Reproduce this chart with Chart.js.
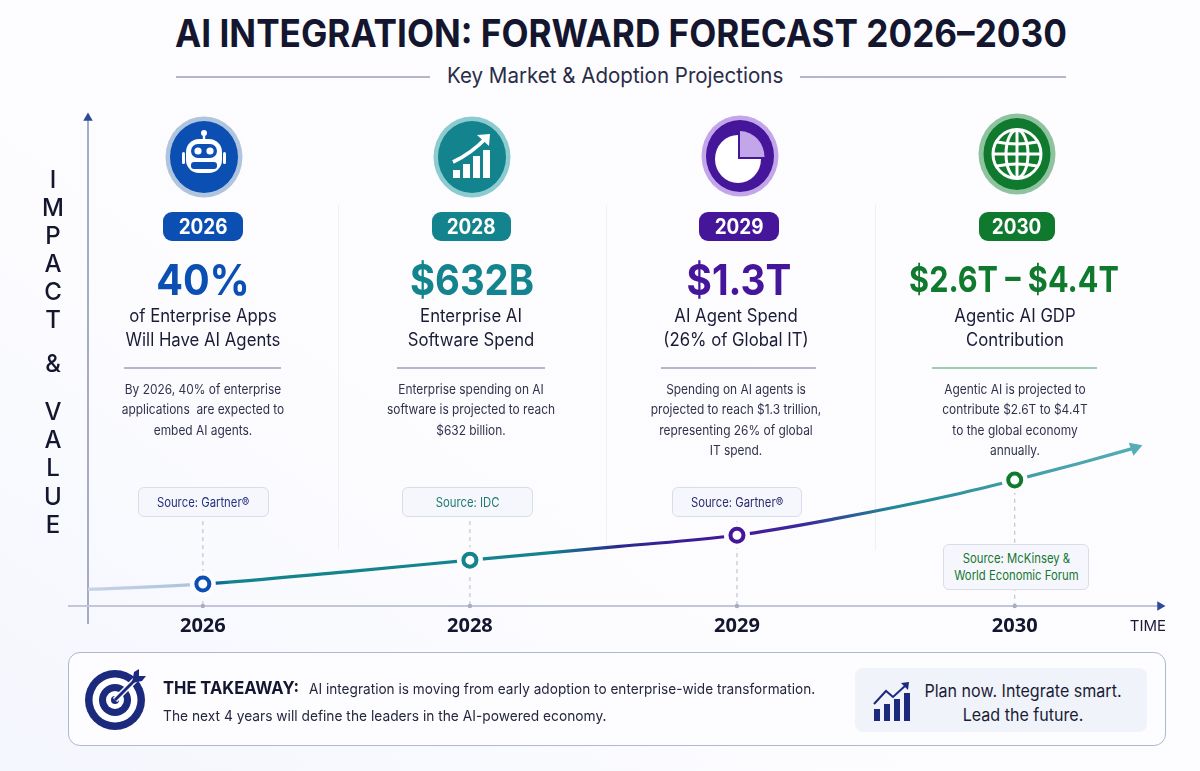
<!DOCTYPE html>
<html>
<head>
<meta charset="utf-8">
<script src="https://cdn.jsdelivr.net/npm/chart.js"></script>
<style>
  * { box-sizing: border-box; }
  html, body { margin: 0; padding: 0; }
  body {
    width: 1200px; height: 771px; overflow: hidden; position: relative;
    font-family: Inter, "Noto Sans", sans-serif; color: #1a1c36;
    background: linear-gradient(35deg, #f4f6fd 0%, #fcfcff 35%, #fdfdff 100%);
  }
  #timeline { position: absolute; left: 0; top: 0; width: 1200px; height: 771px; }
  .abs { position: absolute; white-space: nowrap; transform-origin: left center; }
  .center { position: absolute; text-align: center; white-space: nowrap; }
  h1 { position: absolute; left: 621px; top: 11px; margin: 0; white-space: nowrap;
       transform: translateX(-50%) scaleX(0.925);
       font-size: 38px; line-height: 44px; font-weight: 700; color: #14152e; }
  #subtitle { position: absolute; left: 447px; top: 61px; font-size: 21.5px; line-height: 28px; color: #2a2c48; white-space: nowrap;
              transform: scaleX(0.955); transform-origin: left center; }
  .rule { position: absolute; height: 1.5px; background: #b4b7cb; }
  .sep { position: absolute; width: 1px; background: #eef0f6; top: 205px; height: 345px; }
  #yTitle { position: absolute; left: 38px; top: 0; width: 30px; text-align: center; font-size: 24px; font-weight: 500; color: #14152e; }
  #yTitle span { position: absolute; left: 0; width: 30px; line-height: 28px; }
  .badge { position: absolute; top: 212px; height: 29px; border-radius: 9px; color: #fff; text-align: center;
           font-size: 21px; font-weight: 700; line-height: 29px; }
  .badge span { display: inline-block; transform: scaleX(0.9); }
  .value { top: 254px; font-weight: 700; font-size: 43px; line-height: 50px; }
  .sub { top: 304px; font-size: 18px; line-height: 24px; color: #1a1c36; transform: translateX(-50%) scaleX(0.93); }
  .desc { top: 379px; font-size: 13.4px; line-height: 20.3px; color: #30324c; transform: translateX(-50%) scaleX(0.89); }
  .srcbox { position: absolute; background: #f6f7fc; border: 1px solid #d9dce9; border-radius: 6px; text-align: center;
            font-size: 13px; line-height: 17px; display: flex; align-items: center; justify-content: center; }
  .srcbox div { transform: scaleX(0.87); white-space: nowrap; }
  svg { position: absolute; overflow: visible; }
  #takeaway { position: absolute; left: 68px; top: 652px; width: 1098px; height: 94px; border: 1.5px solid #aeb8d2; border-radius: 12px; background: #fdfdff; }
  #cta { position: absolute; left: 855px; top: 668px; width: 292px; height: 64px; background: #f0f3fa; border-radius: 8px; }
</style>
</head>
<body>
  <h1>AI INTEGRATION: FORWARD FORECAST 2026–2030</h1>
  <div class="rule" style="left:176px;top:76px;width:254px"></div>
  <div id="subtitle">Key Market &amp; Adoption Projections</div>
  <div class="rule" style="left:800px;top:76px;width:266px"></div>

  <div id="takeaway"></div>

  <div class="sep" style="left:338px"></div>
  <div class="sep" style="left:606px"></div>
  <div class="sep" style="left:875px"></div>

  <canvas id="timeline" width="1200" height="771"></canvas>

  <div id="yTitle"></div>
  <div id="cards"></div>

  <svg style="left:115px;top:700px" width="1" height="1" viewBox="0 0 1 1">
    <circle r="30" fill="#1b2a7d"/><circle r="22.5" fill="#fff"/><circle r="16" fill="#1b2a7d"/><circle r="9" fill="#fff"/><circle r="4" fill="#1b2a7d"/>
    <path d="M0 0 L21 -21" stroke="#fff" stroke-width="6"/><path d="M0 0 L21 -21" stroke="#1b2a7d" stroke-width="3"/>
    <path d="M17 -17 L19 -28 L24 -31 L24 -24 L31 -24 L27 -19 Z" fill="#1b2a7d"/>
  </svg>
  <div class="abs" style="left:163px;top:677px;font-size:17.5px;font-weight:700;line-height:22px;color:#14152e;transform:scaleX(0.945)">THE TAKEAWAY:</div>
  <div class="abs" style="left:309px;top:678px;font-size:14.6px;line-height:22px;color:#25273f;transform:scaleX(0.934)">AI integration is moving from early adoption to enterprise-wide transformation.</div>
  <div class="abs" style="left:163px;top:705px;font-size:14.6px;line-height:22px;color:#25273f;transform:scaleX(0.943)">The next 4 years will define the leaders in the AI-powered economy.</div>
  <div id="cta"></div>
  <svg style="left:874px;top:683px" width="1" height="1" viewBox="0 0 1 1">
    <rect x="0" y="26" width="6" height="12" fill="#1b2a7d"/><rect x="10" y="21" width="6" height="17" fill="#1b2a7d"/><rect x="20" y="16" width="6" height="22" fill="#1b2a7d"/><rect x="30" y="10" width="6" height="28" fill="#1b2a7d"/>
    <path d="M0 21 L12 8 L19 14 L32 2" fill="none" stroke="#1b2a7d" stroke-width="2"/><path d="M27 0 L35 -1 L34 7 Z" fill="#1b2a7d"/>
  </svg>
  <div class="center" style="left:1023px;top:679px;font-size:17.3px;line-height:24px;color:#1a1c36;transform:translateX(-50%) scaleX(0.93)">Plan now. Integrate smart.<br>Lead the future.</div>

  <script>
    // milestones along the time axis
    const YEARS = ['2026', '2028', '2029', '2030'];
    const VALUES = ['40%', '$632B', '$1.3T', '$2.6T – $4.4T'];
    const SUBTITLES = [
      ['of Enterprise Apps', 'Will Have AI Agents'],
      ['Enterprise AI', 'Software Spend'],
      ['AI Agent Spend', '(26% of Global IT)'],
      ['Agentic AI GDP', 'Contribution']
    ];
    const DESCRIPTIONS = [
      ['By 2026, 40% of enterprise', 'applications  are expected to', 'embed AI agents.'],
      ['Enterprise spending on AI', 'software is projected to reach', '$632 billion.'],
      ['Spending on AI agents is', 'projected to reach $1.3 trillion,', 'representing 26% of global', 'IT spend.'],
      ['Agentic AI is projected to', 'contribute $2.6T to $4.4T', 'to the global economy', 'annually.']
    ];
    const SOURCES = [
      ['Source: Gartner®'],
      ['Source: IDC'],
      ['Source: Gartner®'],
      ['Source: McKinsey &', 'World Economic Forum']
    ];
    const COLORS = ['#0b4fb3', '#13838d', '#46169a', '#0f7a2d'];
    const RING_COLORS = ['#afc4de', '#8ccbd0', '#c3a6ea', '#8fc3a0'];
    const SOURCE_COLORS = ['#23307f', '#1c7a72', '#2a2b6e', '#14752f'];

    // timeline readings: x is the slot on the time axis, y is impact on a 0-100 scale
    const MILESTONE_X = [0, 1, 2, 3.04];
    const MILESTONE_IMPACT = [4.5, 9.4, 14.5, 25.8];
    const LEADER_TOP = [17.4, 17.4, 17.4, 23.6];
    const TREND_X = [-0.43, 0, 0.535, 1, 1.56, 2, 2.36, 2.83, 3.04, 3.28, 3.49];
    const TREND_IMPACT = [3.4, 4.5, 7.0, 9.4, 12.2, 14.5, 17.8, 23.0, 25.8, 29.2, 32.4];

    // side layout of the html cards
    const CENTERS = [203, 471, 736, 1015];
    const VALUE_CENTERS = [203, 472, 739, 1014];
    const VALUE_SCALE = [0.92, 0.89, 0.9, 0.85];
    const BADGE_LEFT = [163, 432, 699, 979];
    const BADGE_WIDTH = [80, 79, 80, 76];
    const RULE_LEFT = [124, 397, 661, 932];
    const RULE_WIDTH = [157, 148, 155, 165];
    const BOX_LEFT = [138, 402, 672, 943];
    const BOX_WIDTH = [131, 131, 130, 146];
    const BOX_TOP = [487, 487, 487, 544];
    const BOX_HEIGHT = [30, 30, 30, 46];

    const ICONS = [
      `<ellipse rx="34" ry="36" fill="#0b4fb3"/>
       <circle cx="0" cy="-24" r="3" fill="#fff"/><rect x="-1.2" y="-23" width="2.4" height="6" fill="#fff"/>
       <rect x="-18" y="-18" width="36" height="34" rx="13" fill="#fff"/>
       <rect x="-22" y="-5" width="3" height="12" rx="1.5" fill="#fff"/><rect x="19" y="-5" width="3" height="12" rx="1.5" fill="#fff"/>
       <rect x="-13" y="-13" width="26" height="14" rx="7" fill="#0b4fb3"/>
       <circle cx="-6" cy="-6" r="3.6" fill="#fff"/><circle cx="6" cy="-6" r="3.6" fill="#fff"/>
       <rect x="-13" y="5" width="26" height="7" rx="3" fill="#0b4fb3"/>`,
      `<ellipse rx="34" ry="36" fill="#13838d"/>
       <rect x="-19" y="13" width="7" height="8" fill="#fff"/><rect x="-9" y="7" width="7" height="14" fill="#fff"/>
       <rect x="1" y="-1" width="7" height="22" fill="#fff"/><rect x="11" y="-7" width="7" height="28" fill="#fff"/>
       <path d="M-19 5 Q0 -4 14 -19" fill="none" stroke="#fff" stroke-width="3.6"/>
       <path d="M5 -22 L18 -23 L17 -11 Z" fill="#fff"/>`,
      `<ellipse rx="34" ry="36" fill="#46169a"/>
       <ellipse cx="-2" cy="3" rx="23" ry="24" fill="#fff"/>
       <path d="M-2 3 V-27 A28 30 0 0 1 26 3 Z" fill="#46169a"/>
       <path d="M0 1 V-25 A25 26 0 0 1 24.5 1 Z" fill="#c3a6ea"/>`,
      `<ellipse rx="33.5" ry="36" fill="#0f7a2d"/>
       <g fill="none" stroke="#fff" stroke-width="3">
         <ellipse rx="24" ry="24.5"/><ellipse rx="11" ry="24"/><path d="M0 -24 V24"/>
         <path d="M-24 0 H24"/><path d="M-20 -12 Q0 -8 20 -12"/><path d="M-20 12 Q0 8 20 12"/>
       </g>`
    ];
    const ICON_X = [203.5, 472, 740, 1017];
    const ICON_Y = [157, 157, 156, 154];

    const Y_TITLE = ['I', 'M', 'P', 'A', 'C', 'T', '&', 'V', 'A', 'L', 'U', 'E'];
    const Y_TITLE_TOPS = [166, 194, 222, 250, 278, 306, 350, 398, 426, 454, 483, 511];

    document.getElementById('yTitle').innerHTML = Y_TITLE
      .map((c, i) => `<span style="top:${Y_TITLE_TOPS[i]}px">${c.replace('&', '&amp;')}</span>`).join('');

    document.getElementById('cards').innerHTML = YEARS.map((year, i) => `
      <svg style="left:${ICON_X[i]}px;top:${ICON_Y[i]}px" width="1" height="1" viewBox="0 0 1 1">
        <ellipse rx="38.5" ry="40.5" fill="${RING_COLORS[i]}"/>${ICONS[i]}
      </svg>
      <div class="badge" style="left:${BADGE_LEFT[i]}px;width:${BADGE_WIDTH[i]}px;background:${COLORS[i]}"><span>${year}</span></div>
      <div class="center value" style="left:${VALUE_CENTERS[i]}px;color:${COLORS[i]};transform:translateX(-50%) scaleX(${VALUE_SCALE[i]})${i === 3 ? ';font-size:36px' : ''}">${VALUES[i]}</div>
      <div class="center sub" style="left:${CENTERS[i]}px">${SUBTITLES[i].join('<br>')}</div>
      <div class="rule" style="left:${RULE_LEFT[i]}px;top:367px;width:${RULE_WIDTH[i]}px;${i === 3 ? 'background:#9fcdb0' : ''}"></div>
      <div class="center desc" style="left:${CENTERS[i]}px">${DESCRIPTIONS[i].join('<br>').replace(/  /g, '&nbsp; ')}</div>
      <div class="srcbox" style="left:${BOX_LEFT[i]}px;top:${BOX_TOP[i]}px;width:${BOX_WIDTH[i]}px;height:${BOX_HEIGHT[i]}px;color:${SOURCE_COLORS[i]}"><div>${SOURCES[i].join('<br>').replace('&', '&amp;')}</div></div>
    `).join('');

    const X_MIN = -0.43, X_MAX = 3.584;

    // line colour changes along the time axis
    const trendGradient = (ctx) => {
      const chart = ctx.chart;
      if (!chart.chartArea) return '#13838d';
      const x = chart.scales.x;
      const end = TREND_X[TREND_X.length - 1];
      const g = chart.ctx.createLinearGradient(x.getPixelForValue(X_MIN), 0, x.getPixelForValue(end), 0);
      const stop = (v, c) => g.addColorStop((v - X_MIN) / (end - X_MIN), c);
      stop(-0.43, '#c5d5e6'); stop(-0.05, '#aec3dc'); stop(0.03, '#0b4fa8'); stop(0.1, '#13838d');
      stop(1.3, '#13838d'); stop(1.55, '#2a2a8e'); stop(2, '#46169a'); stop(2.25, '#3a2a9a');
      stop(2.6, '#1f8a96'); stop(3.04, '#3f9da6'); stop(end, '#55adb5');
      return g;
    };

    const axisLines = {
      id: 'axisLines',
      beforeDatasetsDraw(chart) {
        const { ctx, chartArea: a } = chart;
        ctx.save();
        ctx.lineWidth = 1.5;
        ctx.strokeStyle = '#8d91b0';
        ctx.beginPath();
        ctx.moveTo(a.left, a.top);
        ctx.lineTo(a.left, a.bottom + 18);
        ctx.stroke();
        ctx.lineWidth = 2;
        ctx.strokeStyle = '#c3c5d8';
        ctx.beginPath();
        ctx.moveTo(a.left - 20, a.bottom);
        ctx.lineTo(a.right, a.bottom);
        ctx.stroke();
        // axis name next to the end of the time axis
        ctx.fillStyle = '#1a1c36';
        ctx.font = '15px Inter';
        ctx.textAlign = 'right';
        ctx.textBaseline = 'middle';
        ctx.fillText('TIME', a.right + 6, a.bottom + 20);
        ctx.restore();
      }
    };

    const leaders = MILESTONE_X.map((x, i) => ({
      type: 'line',
      data: [{ x: x, y: LEADER_TOP[i] }, { x: x, y: 0 }],
      borderColor: '#c2c4d2',
      borderWidth: 1.2,
      borderDash: [4, 4],
      pointRadius: [0, 2.2],
      pointBackgroundColor: '#a9abc0',
      pointBorderWidth: 0,
      order: 6,
      clip: false
    }));

    new Chart(document.getElementById('timeline'), {
      type: 'line',
      plugins: [axisLines],
      data: {
        datasets: [
          {
            label: 'Trend',
            data: TREND_X.map((x, i) => ({ x: x, y: TREND_IMPACT[i] })),
            borderColor: trendGradient,
            borderWidth: 3.2,
            cubicInterpolationMode: 'monotone',
            pointRadius: 0,
            order: 5
          },
          ...leaders,
          {
            label: 'Halo',
            data: MILESTONE_X.map((x, i) => ({ x: x, y: MILESTONE_IMPACT[i] })),
            showLine: false,
            pointRadius: 13,
            pointBackgroundColor: '#fcfcff',
            pointBorderWidth: 0,
            order: 3
          },
          {
            label: 'Milestones',
            data: MILESTONE_X.map((x, i) => ({ x: x, y: MILESTONE_IMPACT[i] })),
            showLine: false,
            pointRadius: 6.5,
            pointBackgroundColor: '#ffffff',
            pointBorderColor: COLORS,
            pointBorderWidth: 4,
            order: 1
          },
          {
            label: 'Trend arrow',
            data: [{ x: TREND_X[TREND_X.length - 1], y: TREND_IMPACT[TREND_IMPACT.length - 1] }],
            showLine: false,
            pointStyle: 'triangle',
            pointRadius: 8,
            pointRotation: 70,
            pointBackgroundColor: '#55adb5',
            pointBorderWidth: 0,
            order: 2,
            clip: false
          },
          {
            label: 'Axis arrows',
            data: [{ x: X_MIN, y: 100 }, { x: X_MAX, y: 0 }],
            showLine: false,
            pointStyle: 'triangle',
            pointRadius: 5.5,
            pointRotation: [0, 90],
            pointBackgroundColor: '#2f4a95',
            pointBorderWidth: 0,
            order: 2,
            clip: false
          }
        ]
      },
      options: {
        responsive: false,
        animation: false,
        devicePixelRatio: 1,
        layout: { padding: { left: 88, top: 118, right: 40, bottom: 0 } },
        plugins: { legend: { display: false }, title: { display: false }, tooltip: { enabled: false } },
        scales: {
          x: {
            type: 'linear',
            min: X_MIN,
            max: X_MAX,
            grid: { display: false },
            border: { display: false },
            afterFit: (scale) => { scale.height = 165; },
            afterBuildTicks: (scale) => { scale.ticks = MILESTONE_X.map((v) => ({ value: v })); },
            ticks: {
              autoSkip: false,
              maxRotation: 0,
              padding: 0,
              color: '#14152e',
              font: { family: 'Noto Sans', size: 20, weight: '700' },
              callback: (value) => YEARS[MILESTONE_X.indexOf(value)]
            }
          },
          y: { display: false, min: 0, max: 100 }
        }
      }
    });
  </script>
</body>
</html>
